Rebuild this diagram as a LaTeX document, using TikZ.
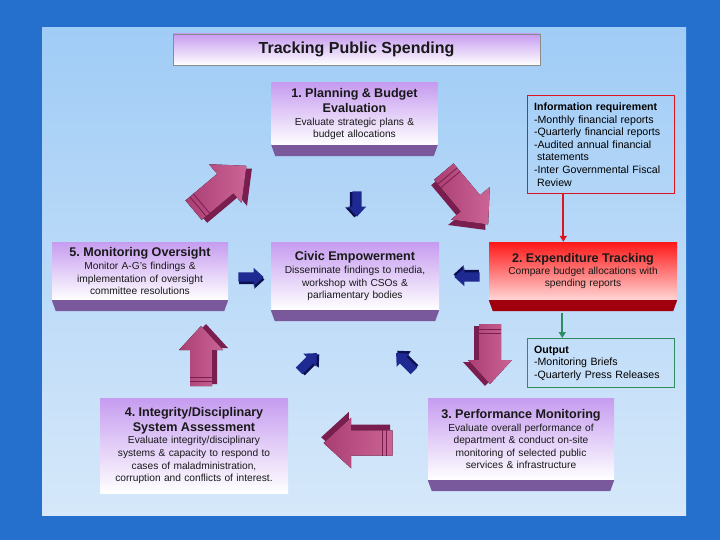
\documentclass[tikz,border=0pt]{standalone}
\usepackage{fontspec}
\setmainfont{Liberation Sans}
\usetikzlibrary{calc, arrows.meta, positioning}
\frenchspacing

\definecolor{deskblue}{RGB}{36,112,204}
\definecolor{paneltop}{RGB}{160,204,246}
\definecolor{panelbot}{RGB}{214,232,250}
\definecolor{cardtop}{RGB}{198,156,240}
\definecolor{cardband}{RGB}{122,88,156}
\definecolor{redtop}{RGB}{255,24,24}
\definecolor{redbot}{RGB}{255,214,214}
\definecolor{redband}{RGB}{160,0,14}
\definecolor{infored}{RGB}{222,20,30}
\definecolor{outgreen}{RGB}{46,140,96}
\definecolor{fatface}{RGB}{204,100,150}
\definecolor{fatfacedark}{RGB}{170,62,114}
\definecolor{fatside}{RGB}{122,30,80}
\definecolor{navyface}{RGB}{30,42,146}
\definecolor{navyside}{RGB}{10,16,80}

\newcommand\stephead{\fontsize{12.6}{14.5}\selectfont\bfseries}
\newcommand\stepbody{\fontsize{10.2}{12.6}\selectfont}
\newcommand\notefont{\fontsize{10.6}{12.6}\selectfont}

% bevelled foot under a card
\newcommand\cardfoot[2]{%
  \fill[#2] (#1.south west) -- (#1.south east) -- ++(-4,11) -- ($(#1.south west)+(4,11)$) -- cycle;}

\tikzset{
  cardbox/.style={top color=cardtop, bottom color=white, inner sep=3pt, align=center, text=black!90},
  redcard/.style={top color=redtop, bottom color=redbot, inner sep=3pt, align=center, text=black!90},
  notebox/.style={line width=1.2pt, inner xsep=6.5pt, inner ysep=7pt, align=left, anchor=north west, font=\notefont},
  fatarrow/.pic={
    \fill[fatside] (-28,-6) -- (8,-6) -- (8,-17) -- (32,5) -- (8,27) -- (8,16) -- (-28,16) -- cycle;
    \fill[left color=fatfacedark, right color=fatface] (-30,-11) -- (6,-11) -- (6,-22) -- (30,0) -- (6,22) -- (6,11) -- (-30,11) -- cycle;
    \draw[fatside, line width=0.8pt] (-25,-11) -- (-25,11) (-21,-11) -- (-21,11);
  },
  navyarrow/.pic={
    \fill[navyside] (-28,-5) -- (8,-5) -- (8,-16) -- (32,6) -- (8,28) -- (8,17) -- (-28,17) -- cycle;
    \fill[navyface] (-30,-11) -- (6,-11) -- (6,-22) -- (30,0) -- (6,22) -- (6,11) -- (-30,11) -- cycle;
  }
}

\begin{document}
\begin{tikzpicture}[x=1pt,y=-1pt]
  % backdrop
  \fill[deskblue] (0,0) rectangle (720,540);
  \fill[top color=paneltop, bottom color=panelbot] (42,28) rectangle (686,515);
  \useasboundingbox (0,0) rectangle (720,540);

  % title
  \node[cardbox, draw=black!45, minimum width=367pt, minimum height=31pt, font=\fontsize{16}{19}\selectfont\bfseries] (title) at (356.5,49.5) {Tracking Public Spending};

  % the five steps and the hub
  \node[cardbox, minimum width=165pt, minimum height=62pt, text width=160pt] (plan) at (354.5,114)
    {{\stephead 1. Planning \& Budget\\Evaluation\par}\stepbody Evaluate strategic plans \&\\budget allocations};
  \node[cardbox, minimum width=174pt, minimum height=58pt, text width=170pt] (oversight) at (140,271)
    {{\stephead 5. Monitoring Oversight\par}\stepbody Monitor A-G's findings \&\\implementation of oversight\\committee resolutions};
  \node[cardbox, minimum width=166pt, minimum height=68pt, text width=162pt] (civic) at (355,276)
    {{\stephead Civic Empowerment\par}\stepbody Disseminate findings to media,\\workshop with CSOs \&\\parliamentary bodies};
  \node[redcard, minimum width=186pt, minimum height=58pt, text width=182pt] (expend) at (583,271)
    {{\stephead 2. Expenditure Tracking\par}\stepbody Compare budget allocations with\\spending reports};
  \node[cardbox, minimum width=186pt, minimum height=95pt, text width=182pt] (integrity) at (194,445.5)
    {{\stephead 4. Integrity/Disciplinary\\System Assessment\par}\stepbody Evaluate integrity/disciplinary\\systems \& capacity to respond to\\cases of maladministration,\\corruption and conflicts of interest.};
  \node[cardbox, minimum width=184pt, minimum height=82pt, text width=180pt] (perform) at (521,439)
    {{\stephead 3. Performance Monitoring\par}\stepbody Evaluate overall performance of\\department \& conduct on-site\\monitoring of selected public\\services \& infrastructure};

  \cardfoot{plan}{cardband}
  \cardfoot{oversight}{cardband}
  \cardfoot{civic}{cardband}
  \cardfoot{expend}{redband}
  \cardfoot{perform}{cardband}

  % side notes
  \node[notebox, draw=infored, minimum width=147pt, minimum height=98pt, text width=134pt] (info) at (527,95)
    {\textbf{Information requirement}\\-Monthly financial reports\\-Quarterly financial reports\\-Audited annual financial\\\hspace*{3pt}statements\\-Inter Governmental Fiscal\\\hspace*{3pt}Review};
  \node[notebox, draw=outgreen, minimum width=147pt, minimum height=48pt, text width=134pt] (output) at (527,338)
    {\textbf{Output}\\-Monitoring Briefs\\-Quarterly Press Releases};

  \coordinate (infofoot) at ($(info.south west)!0.245!(info.south east)$);
  \draw[infored, line width=1.8pt, -{Triangle[width=7pt,length=6pt]}] (infofoot) -- (infofoot |- expend.north);
  \coordinate (expfoot) at ($(expend.south west)!0.39!(expend.south east)+(0,13)$);
  \draw[outgreen, line width=1.8pt, -{Triangle[width=7pt,length=6pt]}] (expfoot) -- (expfoot |- output.north);

  % block arrows round the cycle
  \pic[rotate=40, scale=1.15] at (220,188) {fatarrow};
  \pic[rotate=-50, scale=1.15] at (466,198) {fatarrow};
  \pic[rotate=-90] at (490,354) {fatarrow};
  \pic[rotate=180, scale=1.15] at (358,443) {fatarrow};
  \pic[rotate=90] at (201,356) {fatarrow};

  % small arrows into the hub
  \pic[rotate=-90, scale=0.42] at (357,204) {navyarrow};
  \pic[scale=0.42] at (251,277) {navyarrow};
  \pic[rotate=180, scale=0.42] at (467,277) {navyarrow};
  \pic[rotate=45, scale=0.42] at (308,362) {navyarrow};
  \pic[rotate=135, scale=0.42] at (405,362) {navyarrow};
\end{tikzpicture}
\end{document}
